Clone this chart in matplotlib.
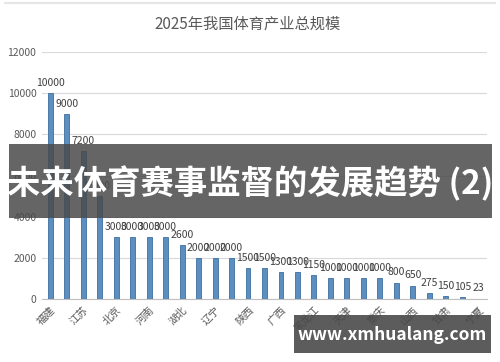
import matplotlib
matplotlib.use("Agg")
import matplotlib.pyplot as plt
from matplotlib.patches import Rectangle

plt.rcParams['font.family'] = ['Noto Sans CJK SC', 'DejaVu Sans']

title = "2025年我国体育产业总规模"
values = [10000, 9000, 7200, 5000, 3000, 3000, 3000, 3000, 2600, 2000, 2000, 2000,
          1500, 1500, 1300, 1300, 1150, 1000, 1000, 1000, 1000, 800, 650, 275, 150, 105, 23]
tick_labels = ["福建", "江苏", "北京", "河南", "湖北", "辽宁", "陕西", "广西",
               "黑龙江", "天津", "重庆", "山西", "甘肃", "宁夏"]
yticks = [0, 2000, 4000, 6000, 8000, 10000, 12000]
banner_text = "未来体育赛事监督的发展趋势 (2)"
watermark = "www.xmhualang.com"

fig = plt.figure(figsize=(5.0, 3.62), dpi=100)
W, H = 500, 362
ax = fig.add_axes([42 / W, 1 - 299 / H, (487 - 42) / W, (299 - 52) / H])

x = list(range(len(values)))
ax.bar(x, values, width=0.3, color="#5b8fc2", edgecolor="#3f6f9e", linewidth=0.6, zorder=3)
for xi, v in zip(x, values):
    ax.text(xi, v + 250, str(v), ha="center", va="bottom", fontsize=7.5, color="#404040", zorder=4)

ax.set_xlim(-0.5, len(values) - 0.5)
ax.set_ylim(0, 12000)
ax.set_yticks(yticks)
ax.set_yticklabels([str(t) for t in yticks], fontsize=7.5, color="#595959")
ax.set_xticks(x[::2])
ax.set_xticklabels(tick_labels, rotation=45, ha="right", rotation_mode="anchor",
                   fontsize=7.5, color="#595959")
ax.tick_params(axis="both", length=0, pad=4)
ax.grid(axis="y", color="#d9d9d9", linewidth=0.8, zorder=0)
for s in ["top", "right", "left"]:
    ax.spines[s].set_visible(False)
ax.spines["bottom"].set_color("#bfbfbf")

fig.text(248 / W, 1 - 24 / H, title, ha="center", va="center", fontsize=11, color="#595959")

# top frame line
fig.add_artist(plt.Line2D([5 / W, 495 / W], [1 - 3 / H, 1 - 3 / H], color="#e6e6e6", linewidth=1.5))

# banner
fig.add_artist(Rectangle((9 / W, 1 - 218 / H), (492 - 9) / W, (218 - 144) / H,
                         transform=fig.transFigure, facecolor="#4a4a4a", alpha=0.85,
                         edgecolor="none", zorder=10))
fig.text(250 / W, 1 - 184 / H, banner_text, ha="center", va="center", fontsize=24,
         fontweight="bold", color="white", zorder=11)

# watermark
fig.add_artist(Rectangle((294 / W, 1 - 353 / H), (491 - 294) / W, (353 - 315) / H,
                         transform=fig.transFigure, facecolor="#4a4a4a", alpha=0.9,
                         edgecolor="none", zorder=10))
fig.text(392 / W, 1 - 335 / H, watermark, ha="center", va="center", fontsize=12.5,
         fontweight="bold", color="white", zorder=11)

fig.savefig("out.png", dpi=100)
